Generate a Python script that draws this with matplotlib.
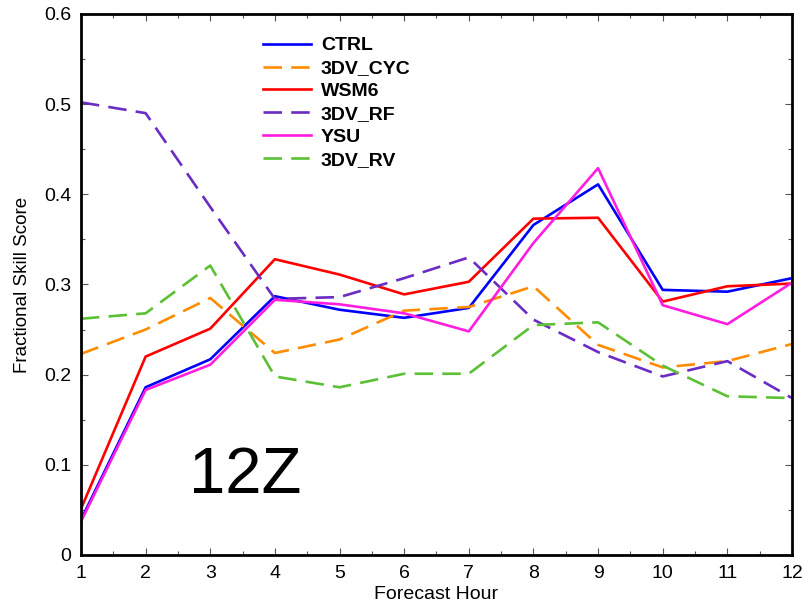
import matplotlib
matplotlib.use('Agg')
import matplotlib.pyplot as plt
from matplotlib.ticker import MultipleLocator

plt.rcParams['font.family'] = ['Liberation Sans', 'DejaVu Sans']

hours = [1, 2, 3, 4, 5, 6, 7, 8, 9, 10, 11, 12]

ctrl = [0.039, 0.186, 0.217, 0.287, 0.272, 0.263, 0.274, 0.366, 0.411, 0.294, 0.292, 0.307]
dv_cyc = [0.223, 0.250, 0.285, 0.224, 0.239, 0.271, 0.275, 0.298, 0.233, 0.208, 0.215, 0.234]
wsm6 = [0.051, 0.220, 0.251, 0.328, 0.311, 0.289, 0.303, 0.373, 0.374, 0.281, 0.298, 0.301]
dv_rf = [0.502, 0.490, 0.386, 0.284, 0.286, 0.307, 0.330, 0.261, 0.225, 0.198, 0.215, 0.174]
ysu = [0.037, 0.183, 0.211, 0.283, 0.278, 0.268, 0.248, 0.346, 0.429, 0.277, 0.256, 0.302]
dv_rv = [0.262, 0.268, 0.321, 0.198, 0.186, 0.201, 0.201, 0.255, 0.258, 0.210, 0.176, 0.174]

series = [
    ('CTRL', ctrl, '#0000ff', False),
    ('3DV_CYC', dv_cyc, '#ff8c00', True),
    ('WSM6', wsm6, '#ff0000', False),
    ('3DV_RF', dv_rf, '#6b2cc4', True),
    ('YSU', ysu, '#ff1ee0', False),
    ('3DV_RV', dv_rv, '#5cc035', True),
]

fig = plt.figure(figsize=(8.08, 6.07), dpi=100)
ax = fig.add_axes([0.1002, 0.0857, 0.8800, 0.8913])

for name, vals, color, dashed in series:
    line, = ax.plot(hours, vals, color=color, lw=1.9, label=name)
    if dashed:
        line.set_dashes((7, 3.5))

ax.set_xlim(1, 12)
ax.set_ylim(0, 0.6)
ax.xaxis.set_major_locator(MultipleLocator(1))
ax.xaxis.set_minor_locator(MultipleLocator(0.5))
ax.yaxis.set_minor_locator(MultipleLocator(0.05))
ax.set_yticks([0, 0.1, 0.2, 0.3, 0.4, 0.5, 0.6])
ax.set_yticklabels(['0', '0.1', '0.2', '0.3', '0.4', '0.5', '0.6'])
ax.tick_params(which='both', direction='in', top=True, right=True, labelsize=14, width=0.8, colors='#555555', labelcolor='black')
ax.tick_params(which='major', length=5, pad=7)
ax.tick_params(which='minor', length=3)
for sp in ax.spines.values():
    sp.set_linewidth(2)

ax.set_xlabel('Forecast Hour', fontsize=14, labelpad=3)
ax.set_ylabel('Fractional Skill Score', fontsize=13.5, labelpad=9)

ax.text(0.152, 0.115, '12Z', transform=ax.transAxes, fontsize=47)

leg = ax.legend(loc='upper left', bbox_to_anchor=(0.232, 0.99), frameon=False,
                handlelength=2.45, handletextpad=0.5, labelspacing=0.27,
                prop={'weight': 'bold', 'size': 14})

fig.savefig('out.png', dpi=100)
